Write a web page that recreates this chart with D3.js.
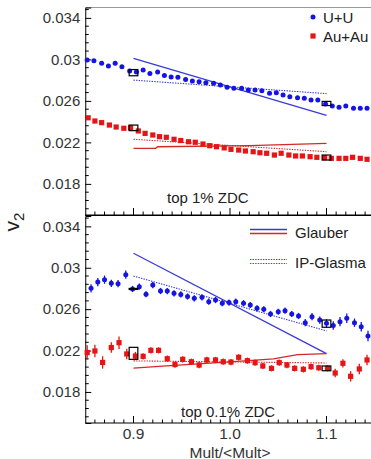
<!DOCTYPE html>
<html><head><meta charset="utf-8">
<script src="https://cdn.jsdelivr.net/npm/d3@7"></script>
<style>
html,body{margin:0;padding:0;background:#fff;}
svg{display:block;font-family:"Liberation Sans",Arial,sans-serif;}
</style></head>
<body><svg id="c" width="371" height="459"></svg>
<script>
// ---------- DATA ----------
const topUUx = [0.852,0.859,0.867,0.874,0.881,0.888,0.896,0.903,0.910,0.917,0.925,0.932,0.939,0.946,0.954,0.961,0.968,0.975,0.983,0.990,0.997,1.004,1.012,1.019,1.026,1.033,1.041,1.048,1.055,1.062,1.070,1.077,1.084,1.091,1.099,1.106,1.113,1.120,1.128,1.135,1.142];
const topUUy = [0.02994,0.02987,0.02962,0.02936,0.02962,0.02929,0.02888,0.02878,0.02898,0.02864,0.02878,0.02845,0.02830,0.02827,0.02806,0.02792,0.02785,0.02775,0.02769,0.02753,0.02731,0.02721,0.02721,0.02705,0.02705,0.02698,0.02673,0.02679,0.02657,0.02640,0.02631,0.02625,0.02608,0.02608,0.02570,0.02551,0.02538,0.02551,0.02528,0.02528,0.02528];

const topAuAux = [0.853,0.860,0.867,0.875,0.882,0.890,0.897,0.905,0.912,0.920,0.927,0.934,0.942,0.949,0.957,0.964,0.972,0.979,0.986,0.994,1.001,1.009,1.016,1.024,1.031,1.038,1.046,1.053,1.061,1.068,1.075,1.083,1.090,1.098,1.105,1.113,1.120,1.127,1.135,1.142];
const topAuAuy = [0.02437,0.02406,0.02390,0.02367,0.02348,0.02336,0.02341,0.02310,0.02287,0.02271,0.02255,0.02249,0.02230,0.02218,0.02206,0.02201,0.02184,0.02168,0.02158,0.02147,0.02133,0.02126,0.02117,0.02110,0.02100,0.02095,0.02078,0.02095,0.02078,0.02069,0.02069,0.02062,0.02056,0.02052,0.02046,0.02046,0.02046,0.02056,0.02046,0.02037];

const botUUx = [0.856,0.863,0.870,0.877,0.884,0.892,0.899,0.906,0.913,0.920,0.928,0.935,0.942,0.949,0.956,0.963,0.971,0.978,0.985,0.992,0.999,1.006,1.014,1.021,1.028,1.035,1.042,1.050,1.057,1.064,1.071,1.078,1.085,1.093,1.100,1.107,1.114,1.121,1.129,1.136,1.143];
const botUUy = [0.02801,0.02862,0.02885,0.02850,0.02846,0.02933,0.02795,0.02817,0.02744,0.02833,0.02775,0.02775,0.02753,0.02742,0.02722,0.02705,0.02714,0.02672,0.02688,0.02657,0.02664,0.02672,0.02657,0.02640,0.02608,0.02599,0.02553,0.02575,0.02585,0.02553,0.02534,0.02469,0.02527,0.02495,0.02463,0.02442,0.02479,0.02512,0.02469,0.02430,0.02341];
const botUUerr = [0.0004,0.0004,0.0004,0.00035,0.00035,0.0004,0.0003,0.0003,0.0003,0.0003,0.0003,0.0003,0.0003,0.0003,0.0003,0.0003,0.0003,0.0003,0.0003,0.0003,0.0003,0.0003,0.0003,0.0003,0.0003,0.0003,0.0003,0.0003,0.0003,0.0003,0.0003,0.00035,0.00035,0.00035,0.0004,0.0004,0.00045,0.00045,0.0004,0.00045,0.0005];

const botAuAux = [0.852,0.860,0.868,0.877,0.885,0.893,0.902,0.910,0.918,0.926,0.935,0.943,0.951,0.960,0.968,0.976,0.985,0.993,1.001,1.009,1.018,1.026,1.034,1.043,1.051,1.059,1.067,1.076,1.084,1.092,1.101,1.109,1.117,1.125,1.134,1.142];
const botAuAuy = [0.02181,0.02196,0.02085,0.02229,0.02276,0.02167,0.02147,0.02144,0.02202,0.02202,0.02121,0.02065,0.02115,0.02092,0.02060,0.02109,0.02109,0.02092,0.02089,0.02135,0.02102,0.02083,0.02051,0.02028,0.02083,0.02060,0.02028,0.02019,0.02044,0.02034,0.02028,0.01983,0.02077,0.01951,0.02022,0.02109];
const botAuAuerr = [0.0007,0.0006,0.0006,0.0005,0.0006,0.0005,0.0004,0.0003,0.0003,0.0003,0.0003,0.0003,0.0003,0.0003,0.0003,0.0003,0.0003,0.0003,0.0003,0.0003,0.0003,0.0003,0.0003,0.0003,0.0003,0.0003,0.0003,0.0003,0.0003,0.0003,0.0003,0.0004,0.0004,0.0005,0.0005,0.0005];

// model curves
const topGlauberUUx = [0.9,1.1],              topGlauberUUy = [0.0301,0.0246];
const topGlasmaUUx  = [0.9,1.1],              topGlasmaUUy  = [0.0280,0.0267];
const topGlauberAuAux = [0.9,0.923,0.925,1.02,1.1], topGlauberAuAuy = [0.02143,0.02143,0.02158,0.02168,0.02190];
const topGlasmaAuAux  = [0.9,1.1],            topGlasmaAuAuy  = [0.0223,0.0211];
const botGlauberUUx = [0.9,1.1],              botGlauberUUy = [0.0314,0.0217];
const botGlasmaUUx  = [0.9,1.1],              botGlasmaUUy  = [0.0292,0.0239];
const botGlauberAuAux = [0.9,0.93,1.0,1.045,1.07,1.1], botGlauberAuAuy = [0.0203,0.0205,0.0209,0.0212,0.0216,0.0217];
const botGlasmaAuAux  = [0.9,1.1],            botGlasmaAuAuy  = [0.0210,0.0208];

// systematic boxes: x, y, half-height
const topBoxX = [0.9,1.1,0.9,1.1], topBoxY = [0.02872,0.02575,0.02340,0.02054], topBoxH = [0.0003,0.0002,0.00027,0.00024];
const botBoxX = [0.9,1.1,0.9,1.1], botBoxY = [0.02795,0.02460,0.02173,0.02028], botBoxH = [0.00005,0.00035,0.00058,0.00023];

const yTickVals = [0.018,0.022,0.026,0.030,0.034];
const yTickLabels = ["0.018","0.022","0.026","0.03","0.034"];
const xTickVals = [0.9,1.0,1.1];
const xTickLabels = ["0.9","1.0","1.1"];
const legendTop = ["U+U","Au+Au"];
const legendBot = ["Glauber","IP-Glasma"];
const panelLabels = ["top 1% ZDC","top 0.1% ZDC"];

// ---------- DRAW ----------
const BLUE = "#1414e6", RED = "#e61414", LBLUE = "#3a3ad8", LRED = "#d42828";
const svg = d3.select("#c");
const x = d3.scaleLinear().domain([0.85,1.15]).range([85.25,374.75]);
const yT = d3.scaleLinear().domain([0.015,0.035]).range([215,7.5]);
const yB = d3.scaleLinear().domain([0.015,0.035]).range([423,216]);
const zip = (a,b) => a.map((v,i)=>[v,b[i]]);
const line = (y) => d3.line().x(d=>x(d[0])).y(d=>y(d[1]));

function panel(y, top, bottom) {
  const g = svg.append("g");
  g.append("line").attr("x1",x(0.85)).attr("x2",380).attr("y1",top).attr("y2",top)
    .attr("stroke", top < 10 ? "#999" : "#000").attr("stroke-width",1);
  const ya = d3.axisLeft(y).tickValues(yTickVals).tickSize(-6)
    .tickFormat((d,i)=>yTickLabels[i]).tickPadding(12);
  const ag = g.append("g").attr("transform",`translate(${x(0.85)},0)`).call(ya);
  ag.select(".domain").attr("stroke","#000");
  ag.selectAll(".tick line").attr("stroke","#000");
  ag.selectAll("text").attr("font-size",15).attr("fill","#333").attr("dx",7)
    .attr("font-family","'Liberation Sans',Arial,sans-serif");
  const minor = d3.range(0.0156,0.0350,0.0008).filter(v=>!yTickVals.some(t=>Math.abs(t-v)<1e-6));
  g.selectAll(".ym").data(minor).join("line")
    .attr("x1",x(0.85)).attr("x2",x(0.85)+3.5).attr("y1",d=>y(d)).attr("y2",d=>y(d)).attr("stroke","#000");
  g.append("line").attr("x1",x(0.85)).attr("x2",380).attr("y1",bottom).attr("y2",bottom).attr("stroke","#000").attr("stroke-width",1.2);
  const xm = d3.range(0.86,1.1501,0.01);
  g.selectAll(".xm").data(xm).join("line")
    .attr("x1",d=>x(d)).attr("x2",d=>x(d)).attr("y1",bottom)
    .attr("y2",d=>xTickVals.some(t=>Math.abs(t-d)<1e-6)? bottom-7 : bottom-3.5).attr("stroke","#000");
  return g;
}

function models(g, y, gux, guy, iux, iuy, gax, gay, iax, iay) {
  g.append("path").datum(zip(gux,guy)).attr("d",line(y)).attr("fill","none").attr("stroke",LBLUE).attr("stroke-width",1.3);
  g.append("path").datum(zip(gax,gay)).attr("d",line(y)).attr("fill","none").attr("stroke",LRED).attr("stroke-width",1.3);
  g.append("path").datum(zip(iux,iuy)).attr("d",line(y)).attr("fill","none").attr("stroke",LBLUE).attr("stroke-width",1.1).attr("stroke-dasharray","1.4,1.2");
  g.append("path").datum(zip(iax,iay)).attr("d",line(y)).attr("fill","none").attr("stroke",LRED).attr("stroke-width",1.1).attr("stroke-dasharray","1.4,1.2");
}

function boxes(g, y, bx, by, bh) {
  g.selectAll(null).data(bx.map((v,i)=>({x:v,y:by[i],h:bh[i]}))).join("rect")
    .attr("x",d=>x(d.x-0.0045)).attr("width",d=>x(d.x+0.0045)-x(d.x-0.0045))
    .attr("y",d=>y(d.y+d.h)).attr("height",d=>Math.max(1,y(d.y-d.h)-y(d.y+d.h)))
    .attr("fill","none").attr("stroke","#000").attr("stroke-width",1.2);
}

function points(g, y, xs, ys, errs, color, shape) {
  const data = xs.map((v,i)=>({x:v,y:ys[i],e:errs?errs[i]:0}));
  if (errs) {
    g.selectAll(null).data(data).join("line")
      .attr("x1",d=>x(d.x)).attr("x2",d=>x(d.x)).attr("y1",d=>y(d.y+d.e)).attr("y2",d=>y(d.y-d.e))
      .attr("stroke",color).attr("stroke-width",1.3);
  }
  if (shape==="circle") {
    g.selectAll(null).data(data).join("circle").attr("cx",d=>x(d.x)).attr("cy",d=>y(d.y)).attr("r",2.5).attr("fill",color);
  } else {
    g.selectAll(null).data(data).join("rect").attr("x",d=>x(d.x)-2.6).attr("y",d=>y(d.y)-2.6).attr("width",5.2).attr("height",5.2).attr("fill",color);
  }
}

const gT = panel(yT, 7.5, 215);
models(gT, yT, topGlauberUUx, topGlauberUUy, topGlasmaUUx, topGlasmaUUy, topGlauberAuAux, topGlauberAuAuy, topGlasmaAuAux, topGlasmaAuAuy);
points(gT, yT, topUUx, topUUy, null, BLUE, "circle");
points(gT, yT, topAuAux, topAuAuy, null, RED, "square");
boxes(gT, yT, topBoxX, topBoxY, topBoxH);

const gB = panel(yB, 215.5, 423);
models(gB, yB, botGlauberUUx, botGlauberUUy, botGlasmaUUx, botGlasmaUUy, botGlauberAuAux, botGlauberAuAuy, botGlasmaAuAux, botGlasmaAuAuy);
points(gB, yB, botUUx, botUUy, botUUerr, BLUE, "circle");
points(gB, yB, botAuAux, botAuAuy, botAuAuerr, RED, "square");
boxes(gB, yB, botBoxX, botBoxY, botBoxH);

svg.selectAll(".xl").data(xTickVals).join("text")
  .attr("x",d=>x(d)).attr("y",439).attr("text-anchor","middle")
  .attr("font-size",15.5).attr("fill","#333").text((d,i)=>xTickLabels[i]);
svg.append("text").attr("x",x(1.0)).attr("y",457.5).attr("text-anchor","middle")
  .attr("font-size",15.5).attr("fill","#333").text("Mult/<Mult>");

const yl = svg.append("text").attr("transform","translate(19,222) rotate(-90)")
  .attr("text-anchor","middle").attr("font-size",21).attr("fill","#222");
yl.append("tspan").text("v");
yl.append("tspan").attr("font-size",15).attr("dy",5).text("2");

svg.append("text").attr("x",167).attr("y",203).attr("font-size",15).attr("fill","#222").text(panelLabels[0]);
svg.append("text").attr("x",181).attr("y",417).attr("font-size",15).attr("fill","#222").text(panelLabels[1]);

svg.append("circle").attr("cx",313).attr("cy",17).attr("r",2.5).attr("fill",BLUE);
svg.append("rect").attr("x",310.4).attr("y",33.4).attr("width",5.2).attr("height",5.2).attr("fill",RED);
svg.append("text").attr("x",323).attr("y",23).attr("font-size",15).attr("fill","#222").text(legendTop[0]);
svg.append("text").attr("x",323).attr("y",42).attr("font-size",15).attr("fill","#222").text(legendTop[1]);

svg.append("line").attr("x1",250).attr("x2",287).attr("y1",229.5).attr("y2",229.5).attr("stroke",LBLUE).attr("stroke-width",1.3);
svg.append("line").attr("x1",250).attr("x2",287).attr("y1",233.5).attr("y2",233.5).attr("stroke",LRED).attr("stroke-width",1.3);
svg.append("line").attr("x1",250).attr("x2",287).attr("y1",259.5).attr("y2",259.5).attr("stroke",LBLUE).attr("stroke-width",1.1).attr("stroke-dasharray","1.4,1.2");
svg.append("line").attr("x1",250).attr("x2",287).attr("y1",263.5).attr("y2",263.5).attr("stroke",LRED).attr("stroke-width",1.1).attr("stroke-dasharray","1.4,1.2");
svg.append("text").attr("x",295).attr("y",238).attr("font-size",15).attr("fill","#222").text(legendBot[0]);
svg.append("text").attr("x",295).attr("y",268).attr("font-size",15).attr("fill","#222").text(legendBot[1]);
</script></body></html>
